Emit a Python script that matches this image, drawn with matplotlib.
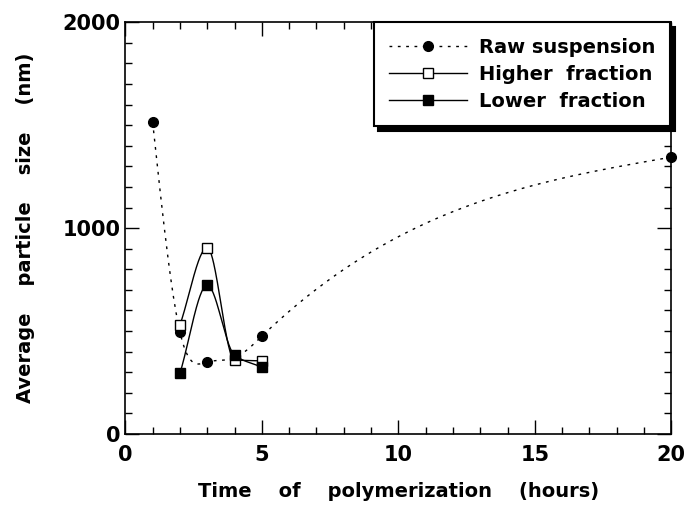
import numpy as np
import matplotlib.pyplot as plt
from matplotlib.ticker import MultipleLocator

# time of polymerization (hours)
raw_t = [1, 2, 3, 4, 5, 20]
raw_size = [1515, 495, 350, 370, 475, 1345]

frac_t = [2, 3, 4, 5]
higher_size = [530, 905, 360, 355]
lower_size = [295, 723, 383, 325]


def spline(x, y, n=400):
    # natural cubic spline through the points, only for drawing the line
    x = np.asarray(x, float)
    y = np.asarray(y, float)
    k = len(x)
    h = np.diff(x)
    A = np.zeros((k, k))
    b = np.zeros(k)
    A[0, 0] = A[-1, -1] = 1
    for i in range(1, k - 1):
        A[i, i - 1] = h[i - 1]
        A[i, i] = 2 * (h[i - 1] + h[i])
        A[i, i + 1] = h[i]
        b[i] = 6 * ((y[i + 1] - y[i]) / h[i] - (y[i] - y[i - 1]) / h[i - 1])
    M = np.linalg.solve(A, b)
    xs = np.linspace(x[0], x[-1], n)
    idx = np.clip(np.searchsorted(x, xs) - 1, 0, k - 2)
    x0, x1 = x[idx], x[idx + 1]
    hh = x1 - x0
    a = (x1 - xs) / hh
    c = (xs - x0) / hh
    ys = (a * y[idx] + c * y[idx + 1]
          + ((a ** 3 - a) * M[idx] + (c ** 3 - c) * M[idx + 1]) * hh ** 2 / 6)
    return xs, ys


def pchip(x, y, n=200):
    # monotone cubic through the points (no overshoot), for drawing the line
    x = np.asarray(x, float)
    y = np.asarray(y, float)
    h = np.diff(x)
    d = np.diff(y) / h
    m = np.zeros(len(x))
    for i in range(1, len(x) - 1):
        if d[i - 1] * d[i] > 0:
            m[i] = 2 / (1 / d[i - 1] + 1 / d[i])
    m[0] = d[0]
    m[-1] = d[-1]
    xs = np.linspace(x[0], x[-1], n)
    idx = np.clip(np.searchsorted(x, xs) - 1, 0, len(x) - 2)
    t = (xs - x[idx]) / h[idx]
    h00 = 2 * t ** 3 - 3 * t ** 2 + 1
    h10 = t ** 3 - 2 * t ** 2 + t
    h01 = -2 * t ** 3 + 3 * t ** 2
    h11 = t ** 3 - t ** 2
    ys = (h00 * y[idx] + h10 * h[idx] * m[idx]
          + h01 * y[idx + 1] + h11 * h[idx] * m[idx + 1])
    return xs, ys


plt.rcParams['font.family'] = ['DejaVu Sans']
plt.rcParams['font.weight'] = 'bold'

fig = plt.figure(figsize=(6.85, 5.07), dpi=100)
ax = fig.add_axes([0.183, 0.144, 0.797, 0.812])

xs, ys = spline(raw_t, raw_size)
ax.plot(xs, ys, color='black', lw=1, ls=(0, (2, 4)))
ax.plot(raw_t, raw_size, 'o', color='black', ms=7, clip_on=False)

xs, ys = pchip(frac_t, higher_size)
ax.plot(xs, ys, color='black', lw=1)
ax.plot(frac_t, higher_size, 's', mfc='white', mec='black', ms=7)

xs, ys = pchip(frac_t, lower_size)
ax.plot(xs, ys, color='black', lw=1)
ax.plot(frac_t, lower_size, 's', color='black', ms=7)

ax.set_xlim(0, 20)
ax.set_ylim(0, 2000)
ax.xaxis.set_major_locator(MultipleLocator(5))
ax.xaxis.set_minor_locator(MultipleLocator(1))
ax.yaxis.set_major_locator(MultipleLocator(1000))
ax.yaxis.set_minor_locator(MultipleLocator(100))
ax.tick_params(which='both', direction='in', top=True, right=True,
               labelsize=15, width=1)
ax.tick_params(which='major', length=10)
ax.tick_params(which='minor', length=5)
ax.tick_params(axis='x', pad=8)
for s in ax.spines.values():
    s.set_linewidth(1.2)

ax.set_xlabel('Time    of    polymerization    (hours)', fontsize=14,
              fontweight='bold', labelpad=12)
ax.set_ylabel('Average    particle    size    (nm)', fontsize=14,
              fontweight='bold', labelpad=20)

# legend handles
h1, = ax.plot([], [], color='black', lw=1, ls=(0, (2, 4)), marker='o', ms=7)
h2, = ax.plot([], [], color='black', lw=1, marker='s', mfc='white', ms=7)
h3, = ax.plot([], [], color='black', lw=1, marker='s', ms=7)
leg = ax.legend([h1, h2, h3],
                ['Raw suspension', 'Higher  fraction', 'Lower  fraction'],
                loc='upper right', bbox_to_anchor=(0.993, 0.975),
                bbox_transform=fig.transFigure, fontsize=14,
                fancybox=False, edgecolor='black', framealpha=1,
                handlelength=4, labelspacing=0.4, borderpad=0.8,
                handletextpad=0.6,
                shadow={'ox': 3.5, 'oy': -3.5, 'color': 'black', 'alpha': 1})
leg.get_frame().set_linewidth(1.5)

fig.savefig('out.png', dpi=100)
